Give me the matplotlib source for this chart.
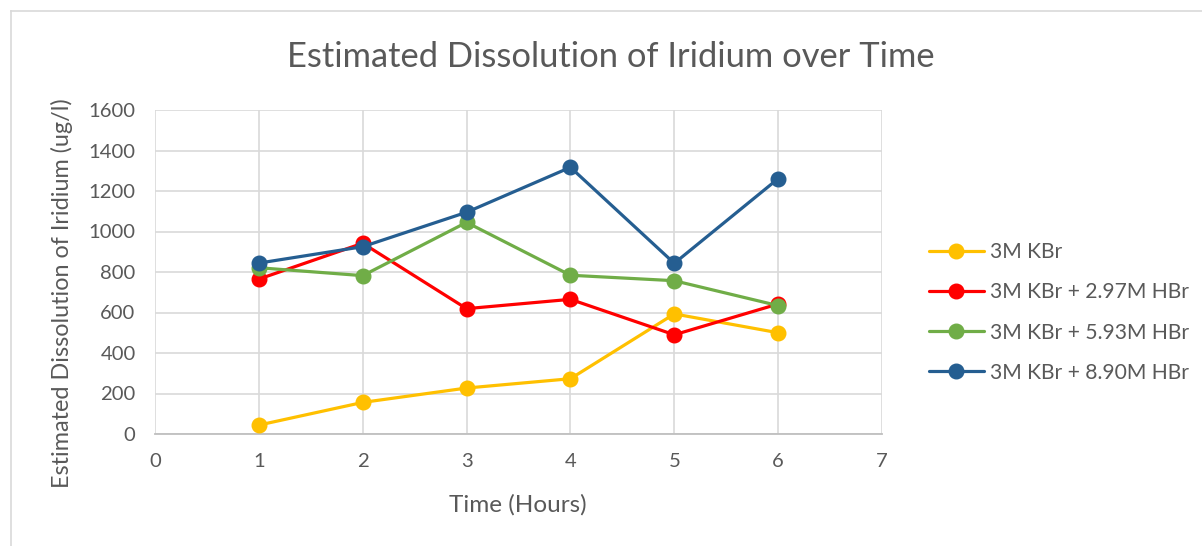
import matplotlib
matplotlib.use("Agg")
import matplotlib.pyplot as plt
from matplotlib.lines import Line2D

plt.rcParams['font.family'] = ['Lato', 'DejaVu Sans']

hours = [1, 2, 3, 4, 5, 6]
series_names = ["3M KBr", "3M KBr + 2.97M HBr", "3M KBr + 5.93M HBr", "3M KBr + 8.90M HBr"]
kbr = [44, 156, 227, 273, 593, 500]
kbr_297 = [765, 942, 619, 665, 490, 642]
kbr_593 = [821, 782, 1045, 784, 757, 634]
kbr_890 = [844, 925, 1095, 1317, 843, 1261]
colors = ["#FFC000", "#FF0000", "#70AD47", "#255E91"]
x_ticks = [0, 1, 2, 3, 4, 5, 6, 7]
y_ticks = [0, 200, 400, 600, 800, 1000, 1200, 1400, 1600]

txt = "#595959"
W, H = 1202, 546
fig = plt.figure(figsize=(W / 100, H / 100), dpi=100)
ax = fig.add_axes([155 / W, 1 - 434 / H, (882 - 155) / W, (434 - 110) / H])

for vals, c, name in zip([kbr, kbr_297, kbr_593, kbr_890], colors, series_names):
    ax.plot(hours, vals, color=c, lw=2.3, marker='o', markersize=10.5,
            markeredgecolor=c, label=name, solid_capstyle='round', zorder=3)

ax.set_xlim(0, 7)
ax.set_ylim(0, 1600)
ax.set_xticks(x_ticks)
ax.set_yticks(y_ticks)
ax.grid(True, color="#D9D9D9", lw=1.2, zorder=0)
ax.set_axisbelow(True)
for s in ['top', 'right', 'left']:
    ax.spines[s].set_visible(False)
ax.spines['bottom'].set_color("#BFBFBF")
ax.spines['bottom'].set_linewidth(1.3)
ax.tick_params(axis='both', length=0, labelsize=14.6, colors=txt)
ax.tick_params(axis='y', pad=14)
ax.tick_params(axis='x', pad=14)

fig.text(518 / W, 1 - 505 / H, "Time (Hours)", ha='center', va='center', fontsize=17.5, color=txt)
fig.text(62 / W, 1 - 293 / H, "Estimated Dissolution of Iridium (ug/l)", ha='center', va='center',
         rotation=90, fontsize=16.8, color=txt)
fig.text(611 / W, 1 - 57 / H, "Estimated Dissolution of Iridium over Time", ha='center', va='center',
         fontsize=24.8, color=txt)

handles, labels = ax.get_legend_handles_labels()
leg = fig.legend(handles, labels, loc='center left', bbox_to_anchor=(929 / W, 1 - 312.5 / H),
                 frameon=False, fontsize=15.2, handlelength=2.6, handletextpad=0.3,
                 labelspacing=0.95, borderpad=0, borderaxespad=0)
for t in leg.get_texts():
    t.set_color(txt)

# chart area border
fig.add_artist(Line2D([11 / W, 1], [1 - 11 / H, 1 - 11 / H], color="#D9D9D9", lw=1.2))
fig.add_artist(Line2D([11 / W, 11 / W], [0, 1 - 11 / H], color="#D9D9D9", lw=1.2))

fig.savefig("out.png", dpi=100, facecolor='white')
